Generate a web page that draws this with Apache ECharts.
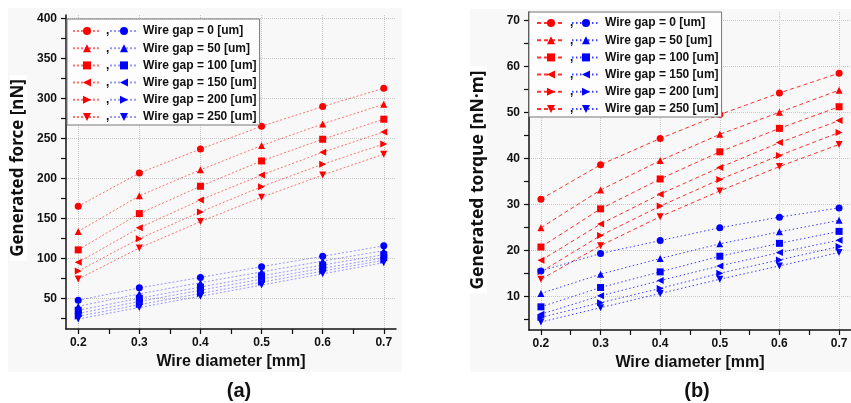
<!DOCTYPE html>
<html>
<head>
<meta charset="utf-8">
<script src="https://cdn.jsdelivr.net/npm/echarts@6/dist/echarts.min.js"></script>
<style>
  html, body { margin: 0; padding: 0; background: #fff; }
  #chart { width: 851px; height: 403px; }
</style>
</head>
<body>
<div id="chart"></div>
<script>
// wire diameter [mm]
const diameters = [0.2, 0.3, 0.4, 0.5, 0.6, 0.7];
const gapLabels = [
  "Wire gap = 0 [um]", "Wire gap = 50 [um]", "Wire gap = 100 [um]",
  "Wire gap = 150 [um]", "Wire gap = 200 [um]", "Wire gap = 250 [um]"
];

// (a) generated force [nN]
const forceRed0 = [165, 206.5, 236.5, 265, 289.5, 312.5];
const forceRed50 = [133.5, 178, 210.5, 240.8, 267.9, 292.5];
const forceRed100 = [110.5, 155.8, 190, 221.6, 248.7, 273.8];
const forceRed150 = [95, 138, 172.9, 204, 232.5, 257.9];
const forceRed200 = [84, 124.5, 157.9, 189.5, 217.5, 242.9];
const forceRed250 = [74, 112.9, 145.8, 176.2, 204, 230];
const forceBlue0 = [47.5, 63, 76, 89.5, 102.5, 115.5];
const forceBlue50 = [40, 55.5, 69.5, 83, 96.5, 109.5];
const forceBlue100 = [35, 50, 64, 78, 91.5, 104.5];
const forceBlue150 = [31, 46, 60, 74, 87.5, 100.5];
const forceBlue200 = [27.5, 42, 56, 70, 84, 97.5];
const forceBlue250 = [24, 38.5, 52.5, 66.5, 80.5, 94.5];

// (b) generated torque [nN·m]
const torqueRed0 = [31.2, 38.7, 44.4, 49.6, 54.3, 58.6];
const torqueRed50 = [25, 33.2, 39.6, 45.3, 50.1, 54.9];
const torqueRed100 = [20.8, 29.1, 35.6, 41.5, 46.6, 51.3];
const torqueRed150 = [17.9, 25.8, 32.3, 38.1, 43.5, 48.3];
const torqueRed200 = [15.4, 23.3, 29.7, 35.5, 40.7, 45.7];
const torqueRed250 = [13.8, 21.1, 27.4, 33, 38.3, 43.1];
const torqueBlue0 = [15.6, 19.4, 22.2, 25, 27.3, 29.3];
const torqueBlue50 = [10.7, 14.9, 18.3, 21.5, 24.1, 26.6];
const torqueBlue100 = [7.8, 12, 15.4, 18.8, 21.6, 24.2];
const torqueBlue150 = [6.2, 10.2, 13.5, 16.7, 19.6, 22.3];
const torqueBlue200 = [5.5, 8.7, 11.8, 15.1, 18, 20.9];
const torqueBlue250 = [4.5, 7.6, 10.7, 13.8, 16.7, 19.6];

// tick labels
const xTicks = [0.2, 0.3, 0.4, 0.5, 0.6, 0.7];
const xMinorTicks = [0.2, 0.25, 0.3, 0.35, 0.4, 0.45, 0.5, 0.55, 0.6, 0.65, 0.7];
const forceTicks = [50, 100, 150, 200, 250, 300, 350, 400];
const forceMinorTicks = [25, 50, 75, 100, 125, 150, 175, 200, 225, 250, 275, 300, 325, 350, 375, 400];
const torqueTicks = [10, 20, 30, 40, 50, 60, 70];
const torqueMinorTicks = [5, 10, 15, 20, 25, 30, 35, 40, 45, 50, 55, 60, 65, 70];

const forceRed = [forceRed0, forceRed50, forceRed100, forceRed150, forceRed200, forceRed250];
const forceBlue = [forceBlue0, forceBlue50, forceBlue100, forceBlue150, forceBlue200, forceBlue250];
const torqueRed = [torqueRed0, torqueRed50, torqueRed100, torqueRed150, torqueRed200, torqueRed250];
const torqueBlue = [torqueBlue0, torqueBlue50, torqueBlue100, torqueBlue150, torqueBlue200, torqueBlue250];

const symbols = [
  "circle", "triangle", "rect",
  "path://M10,0L0,5L10,10Z",
  "path://M0,0L10,5L0,10Z",
  "path://M0,0L10,0L5,10Z"
];

const chart = echarts.init(document.getElementById("chart"));

const font = "Liberation Sans";
const axisColor = "#111";

const makeSeries = (prefix, idx, values, color, lineColor, lineType) => values.map((vals, i) => ({
  name: prefix + i,
  type: "line",
  xAxisIndex: idx,
  yAxisIndex: idx,
  symbol: symbols[i],
  symbolSize: 7,
  itemStyle: { color: color },
  lineStyle: { color: lineColor, width: 1, type: lineType },
  emphasis: { disabled: true },
  data: vals.map((v, j) => [diameters[j], v])
}));

const xMain = (idx) => ({
  type: "value", gridIndex: idx, min: 0.18, max: 0.72,
  axisLine: { lineStyle: { color: axisColor, width: 1.5 } },
  axisTick: { customValues: xMinorTicks, length: 5, lineStyle: { color: axisColor, width: 1.2 } },
  axisLabel: { customValues: xTicks, color: "#111", fontFamily: font, fontWeight: "bold", fontSize: 12, margin: 8,
    formatter: v => v.toFixed(1) },
  splitLine: { show: false },
  name: "Wire diameter [mm]", nameLocation: "middle", nameGap: 25,
  nameTextStyle: { color: "#111", fontFamily: font, fontWeight: "bold", fontSize: 16 }
});

const xGridLines = (idx) => ({
  type: "value", gridIndex: idx, min: 0.18, max: 0.72, position: "top",
  axisLine: { show: false },
  axisTick: { show: false, customValues: xTicks },
  axisLabel: { show: false, customValues: xTicks },
  splitLine: { show: true, lineStyle: { color: "#c8c8c8", type: "dotted", width: 1 } }
});

const yMain = (idx, min, max, ticks, minor) => ({
  type: "value", gridIndex: idx, min: min, max: max,
  axisLine: { show: true, lineStyle: { color: axisColor, width: 1.5 } },
  axisTick: { show: true, customValues: minor, length: 5, lineStyle: { color: axisColor, width: 1.2 } },
  axisLabel: { customValues: ticks, color: "#111", fontFamily: font, fontWeight: "bold", fontSize: 12, margin: 9 },
  splitLine: { show: false }
});

const yGridLines = (idx, min, max, ticks) => ({
  type: "value", gridIndex: idx, min: min, max: max, position: "right",
  axisLine: { show: false },
  axisTick: { show: false, customValues: ticks },
  axisLabel: { show: false, customValues: ticks },
  splitLine: { show: true, lineStyle: { color: "#c8c8c8", type: "dotted", width: 1 } }
});

const legendText = { color: "#111", fontFamily: font, fontWeight: "bold", fontSize: 12, lineHeight: 14 };

const redLegend = (prefix, left, top) => ({
  orient: "vertical", left: left, top: top, padding: 0, z: 6,
  itemWidth: 28, itemHeight: 10, itemGap: 3.2,
  data: gapLabels.map((_, i) => prefix + i),
  formatter: () => ",",
  textStyle: legendText,
  selectedMode: false
});

const blueLegend = (prefix, left, top, padTop) => ({
  orient: "vertical", left: left, top: top, padding: [padTop, 3, 1, 42], z: 5,
  itemWidth: 28, itemHeight: 10, itemGap: 3.2,
  backgroundColor: "#fdfdfd", borderColor: "#777", borderWidth: 1,
  data: gapLabels.map((_, i) => prefix + i),
  formatter: name => gapLabels[+name.slice(prefix.length)],
  textStyle: legendText,
  selectedMode: false
});

const option = {
  animation: false,
  backgroundColor: "#ffffff",
  grid: [
    { left: 66, top: 15, width: 330, height: 314 },
    { left: 529, top: 12, width: 330, height: 318 }
  ],
  xAxis: [xMain(0), xMain(1), xGridLines(0), xGridLines(1)],
  yAxis: [
    yMain(0, 11.6, 404, forceTicks, forceMinorTicks),
    yMain(1, 2.76, 71.9, torqueTicks, torqueMinorTicks),
    yGridLines(0, 11.6, 404, forceTicks),
    yGridLines(1, 2.76, 71.9, torqueTicks)
  ],
  legend: [
    redLegend("aR", 72, 19 + 5),
    blueLegend("aB", 109 - 42, 19, 5),
    redLegend("bR", 536, 12 + 4),
    blueLegend("bB", 571 - 42, 12, 4)
  ],
  graphic: [
    { type: "rect", z: -10, silent: true, shape: { x: 8, y: 8, width: 394, height: 364 }, style: { fill: "#f8f8f8" } },
    { type: "rect", z: -10, silent: true, shape: { x: 470, y: 9, width: 381, height: 363 }, style: { fill: "#f8f8f8" } },
    { type: "text", z: 50, x: 18.5, y: 168, rotation: Math.PI / 2,
      style: { text: "Generated force [nN]", font: "bold 17px 'Noto Sans'", fill: "#111",
        textAlign: "center", textVerticalAlign: "middle", backgroundColor: "#fff", padding: [0, 4] } },
    { type: "text", z: 50, x: 478, y: 180, rotation: Math.PI / 2,
      style: { text: "Generated torque [nN·m]", font: "bold 17.5px 'Noto Sans'", fill: "#111",
        textAlign: "center", textVerticalAlign: "middle", backgroundColor: "#fff", padding: [0, 4] } },
    { type: "text", z: 50, x: 239, y: 391,
      style: { text: "(a)", font: "bold 20px 'Liberation Sans'", fill: "#111", textAlign: "center", textVerticalAlign: "middle" } },
    { type: "text", z: 50, x: 697, y: 391,
      style: { text: "(b)", font: "bold 20px 'Liberation Sans'", fill: "#111", textAlign: "center", textVerticalAlign: "middle" } }
  ],
  series: [
    ...makeSeries("aR", 0, forceRed, "#ff0000", "rgba(255,0,0,0.55)", [2, 2]),
    ...makeSeries("aB", 0, forceBlue, "#0000ff", "rgba(0,0,255,0.4)", [2, 2]),
    ...makeSeries("bR", 1, torqueRed, "#ff0000", "rgba(255,0,0,0.8)", [4, 3]),
    ...makeSeries("bB", 1, torqueBlue, "#0000ff", "rgba(0,0,255,0.75)", [1.5, 2.5])
  ]
};

chart.setOption(option);
</script>
</body>
</html>
